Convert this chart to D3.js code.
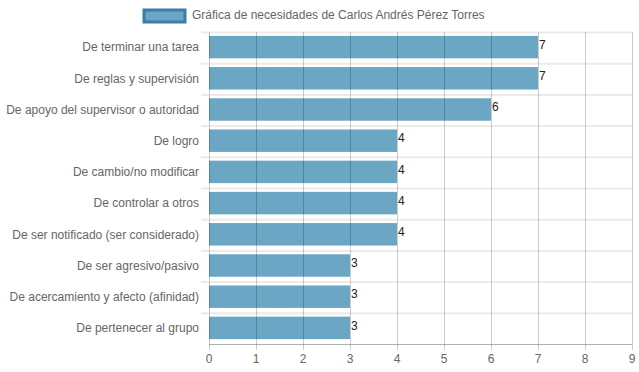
<!DOCTYPE html>
<html><head><meta charset="utf-8">
<script src="https://cdn.jsdelivr.net/npm/d3@7"></script>
<style>body{margin:0;background:#fff;}svg{display:block;font-family:"Liberation Sans",Arial,sans-serif;}</style>
</head><body>
<svg id="c" width="639" height="372"></svg>
<script>
const categories = ["De terminar una tarea","De reglas y supervisión","De apoyo del supervisor o autoridad","De logro","De cambio/no modificar","De controlar a otros","De ser notificado (ser considerado)","De ser agresivo/pasivo","De acercamiento y afecto (afinidad)","De pertenecer al grupo"];
const values = [7,7,6,4,4,4,4,3,3,3];
const xTicks = [0,1,2,3,4,5,6,7,8,9];
const seriesName = "Gráfica de necesidades de Carlos Andrés Pérez Torres";

const svg = d3.select("#c");
const m = {l:209, r:632, t:32, b:344};
const x = d3.scaleLinear().domain([0,9]).range([m.l, m.r]);
const y = d3.scaleBand().domain(categories).range([m.t, m.b]).paddingInner(0).paddingOuter(0);

// horizontal grid lines at category boundaries
const bounds = categories.map(c => y(c));
svg.append("g").selectAll("line").data(bounds).join("line")
  .attr("x1", m.l-8).attr("x2", m.r).attr("y1", d=>d+0.5).attr("y2", d=>d+0.5)
  .attr("stroke","#ebebeb").attr("stroke-width",2);

// bars
const bw = y.bandwidth()*0.72;
svg.append("g").selectAll("rect").data(values).join("rect")
  .attr("x", x(0)).attr("y", (d,i)=>y(categories[i]) + (y.bandwidth()-bw)/2 - 0.5)
  .attr("width", d=>x(d)-x(0)).attr("height", bw)
  .attr("fill","#6ba6c4");

// vertical grid lines (drawn on top, translucent)
svg.append("g").selectAll("line").data(xTicks).join("line")
  .attr("x1", d=>Math.round(x(d))+0.5).attr("x2", d=>Math.round(x(d))+0.5)
  .attr("y1", m.t).attr("y2", m.b+6)
  .attr("stroke","rgba(0,0,0,0.2)").attr("stroke-width",1);
// bottom axis line
svg.append("line").attr("x1", m.l).attr("x2", m.r).attr("y1", m.b+0.5).attr("y2", m.b+0.5)
  .attr("stroke","rgba(0,0,0,0.3)");

// x tick labels
svg.append("g").selectAll("text").data(xTicks).join("text")
  .attr("x", d=>x(d)).attr("y", m.b+19).attr("text-anchor","middle")
  .attr("fill","#666").attr("font-size",12).text(d=>d);

// y labels
svg.append("g").selectAll("text").data(categories).join("text")
  .attr("x", m.l-10).attr("y", d=>y(d)+y.bandwidth()/2 - 0.5).attr("dy","0.35em")
  .attr("text-anchor","end").attr("fill","#666").attr("font-size",12).text(d=>d);

// value labels
svg.append("g").selectAll("text").data(values).join("text")
  .attr("x", d=>x(d)+1).attr("y", (d,i)=>y(categories[i])+y.bandwidth()/2 - 3).attr("dy","0.35em")
  .attr("fill","#222").attr("font-size",12).text(d=>d);

// legend
svg.append("rect").attr("x",144).attr("y",10).attr("width",41).attr("height",12)
  .attr("fill","#6ba6c4").attr("stroke","#3b7da6").attr("stroke-width",3);
svg.append("text").attr("x",192).attr("y",15).attr("dy","0.35em").attr("fill","#666")
  .attr("font-size",12).text(seriesName);
</script>
</body></html>
